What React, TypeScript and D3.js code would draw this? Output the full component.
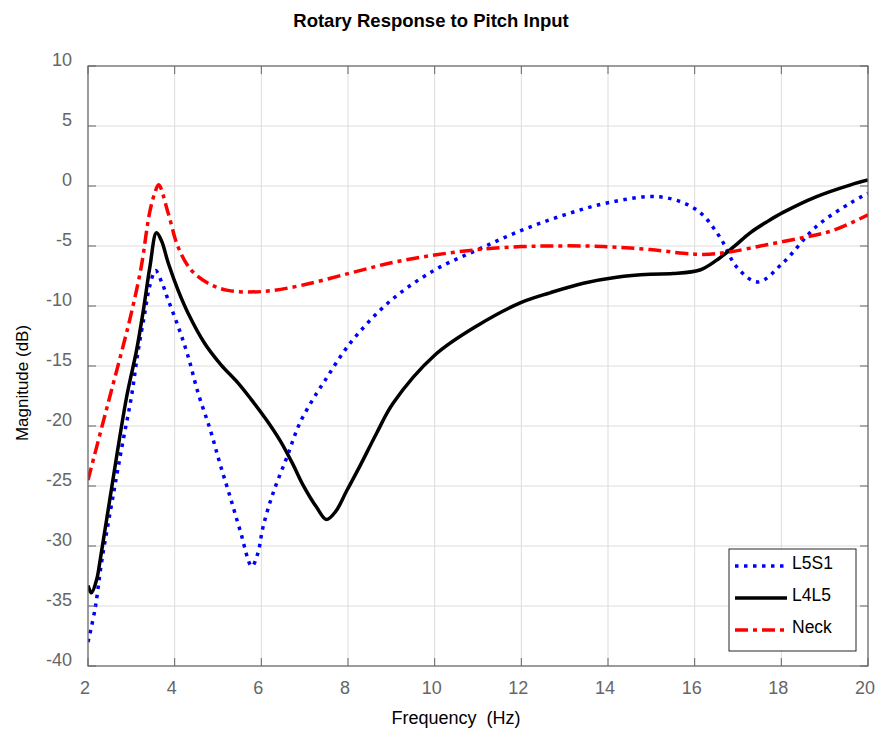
import React from "react";
import * as d3 from "d3";

const W = 878;
const H = 732;
const margin = { top: 66, left: 88 };

const xTicks = [2, 4, 6, 8, 10, 12, 14, 16, 18, 20];
const yTicks = [10, 5, 0, -5, -10, -15, -20, -25, -30, -35, -40];

// L5S1 (blue dotted)
const l5s1Freq = [2, 2.16, 2.32, 2.6, 2.8, 3.0, 3.15, 3.31, 3.42, 3.56, 3.7, 3.85, 4.08, 4.31, 4.54, 4.82, 5.05, 5.28, 5.51, 5.78, 5.92, 6.04, 6.27, 6.59, 6.89, 7.28, 7.47, 8.05, 8.97, 10, 11, 12, 13, 14, 15.2, 16.05, 16.58, 16.97, 17.46, 18.04, 18.8, 19.6, 20];
const l5s1Db = [-38, -35.3, -31.2, -25.4, -21.4, -17.6, -13.9, -10.6, -8.4, -7.05, -8.0, -9.5, -11.7, -14.2, -17.25, -20.3, -23.2, -25.9, -28.7, -31.7, -30.6, -28.4, -25.6, -22.6, -19.75, -17.25, -16.2, -13.1, -9.6, -7, -5.3, -3.7, -2.4, -1.4, -0.9, -2, -4.25, -6.75, -8, -6.4, -3.4, -1.4, -0.6];

// L4L5 (black solid)
const l4l5Freq = [2, 2.08, 2.2, 2.28, 2.5, 2.89, 3.12, 3.28, 3.43, 3.58, 3.7, 3.85, 4.08, 4.31, 4.69, 5.07, 5.46, 5.77, 6.12, 6.43, 6.73, 6.96, 7.28, 7.5, 7.72, 7.97, 8.28, 8.66, 9.04, 10, 11, 12, 12.66, 13.43, 14.2, 14.97, 15.5, 16.12, 16.5, 16.89, 17.28, 17.66, 18.04, 18.8, 19.6, 20];
const l4l5Db = [-33.3, -33.9, -32.8, -31.2, -26.2, -17.6, -13.7, -10.3, -6.7, -3.9, -4.6, -6.4, -8.7, -10.6, -13.1, -14.9, -16.4, -17.8, -19.5, -21.2, -23.2, -24.9, -26.8, -27.8, -27.1, -25.4, -23.3, -20.6, -18.1, -14.1, -11.6, -9.7, -8.9, -8.1, -7.6, -7.35, -7.3, -7, -6.2, -5.1, -3.9, -3, -2.2, -0.9, 0.1, 0.5];

// Neck (red dash-dot)
const neckFreq = [2, 2.5, 2.77, 3.0, 3.23, 3.42, 3.54, 3.63, 3.85, 4.08, 4.38, 4.77, 5.23, 6.0, 6.9, 8, 9, 10, 11, 12, 12.66, 13.5, 14.2, 14.97, 15.74, 16.2, 16.8, 17.66, 18.5, 19.2, 20];
const neckDb = [-24.5, -17.6, -13.9, -10.6, -6.7, -2.25, -0.6, 0.1, -2.25, -5.1, -7, -8.1, -8.7, -8.8, -8.3, -7.3, -6.4, -5.75, -5.3, -5.05, -5, -5, -5.1, -5.3, -5.6, -5.7, -5.5, -4.9, -4.3, -3.7, -2.4];

const series = [
  { name: "L5S1", freq: l5s1Freq, db: l5s1Db, color: "#0000ff", dash: "3.5,5.5" },
  { name: "L4L5", freq: l4l5Freq, db: l4l5Db, color: "#000000", dash: "" },
  { name: "Neck", freq: neckFreq, db: neckDb, color: "#ff0000", dash: "13,5,4,5" },
];

const App = () => {
  const plotW = 780;
  const plotH = 600;
  const x = d3.scaleLinear().domain([2, 20]).range([0, plotW]);
  const y = d3.scaleLinear().domain([-40, 10]).range([plotH, 0]);

  const line = d3
    .line<[number, number]>()
    .x((d) => x(d[0]))
    .y((d) => y(d[1]))
    .curve(d3.curveCatmullRom.alpha(0.5));

  const font = "Liberation Sans, Arial, Helvetica, sans-serif";
  const tickColor = "#666666";
  const tickLen = 8;

  return (
    <svg
      width={W}
      height={H}
      style={{ position: "absolute", left: 0, top: 0, background: "#fff" }}
      fontFamily={font}
    >
      <rect width={W} height={H} fill="#fff" />
      <text x={431} y={27} textAnchor="middle" fontSize={18.5} fontWeight="bold" fill="#000">
        Rotary Response to Pitch Input
      </text>
      <g transform={`translate(${margin.left},${margin.top})`}>
        {/* grid */}
        {xTicks.map((t) => (
          <line key={"gx" + t} x1={x(t)} x2={x(t)} y1={0} y2={plotH} stroke="#dcdcdc" strokeWidth={1} />
        ))}
        {yTicks.map((t) => (
          <line key={"gy" + t} x1={0} x2={plotW} y1={y(t)} y2={y(t)} stroke="#dcdcdc" strokeWidth={1} />
        ))}
        <defs>
          <clipPath id="plotclip">
            <rect x={0} y={0} width={plotW} height={plotH} />
          </clipPath>
        </defs>
        <g clipPath="url(#plotclip)">
          {series.map((s) => (
            <path
              key={s.name}
              d={line(s.freq.map((f, i) => [f, s.db[i]] as [number, number])) || ""}
              fill="none"
              stroke={s.color}
              strokeWidth={3.5}
              strokeDasharray={s.dash || undefined}
              strokeLinejoin="round"
            />
          ))}
        </g>
        {/* box and ticks */}
        <rect x={0} y={0} width={plotW} height={plotH} fill="none" stroke={tickColor} strokeWidth={1.2} />
        {xTicks.map((t) => (
          <g key={"tx" + t}>
            <line x1={x(t)} x2={x(t)} y1={plotH} y2={plotH - tickLen} stroke={tickColor} />
            <line x1={x(t)} x2={x(t)} y1={0} y2={tickLen} stroke={tickColor} />
            <text x={x(t) - 3} y={plotH + 28} textAnchor="middle" fontSize={18} fill={tickColor}>
              {t}
            </text>
          </g>
        ))}
        {yTicks.map((t) => (
          <g key={"ty" + t}>
            <line x1={0} x2={tickLen} y1={y(t)} y2={y(t)} stroke={tickColor} />
            <line x1={plotW} x2={plotW - tickLen} y1={y(t)} y2={y(t)} stroke={tickColor} />
            <text x={-16} y={y(t) - 6} dy="0.35em" textAnchor="end" fontSize={18} fill={tickColor}>
              {t}
            </text>
          </g>
        ))}
        {/* legend */}
        <g transform={`translate(${729 - margin.left},${549 - margin.top})`}>
          <rect x={0} y={0} width={127} height={102} fill="#fff" stroke="#262626" strokeWidth={1} />
          {series.map((s, i) => (
            <g key={"lg" + s.name} transform={`translate(0,${17 + i * 32})`}>
              <line x1={6} x2={58} y1={0} y2={0} stroke={s.color} strokeWidth={3.5} strokeDasharray={s.dash || undefined} />
              <text x={63} y={-3} dy="0.35em" fontSize={17.5} fill="#000">
                {s.name}
              </text>
            </g>
          ))}
        </g>
      </g>
      <text x={456} y={724} textAnchor="middle" fontSize={18} fill="#000">
        Frequency{"\u00a0\u00a0"}(Hz)
      </text>
      <text transform={`translate(28,383) rotate(-90)`} textAnchor="middle" fontSize={17} fill="#000">
        Magnitude (dB)
      </text>
    </svg>
  );
};

export default App;
